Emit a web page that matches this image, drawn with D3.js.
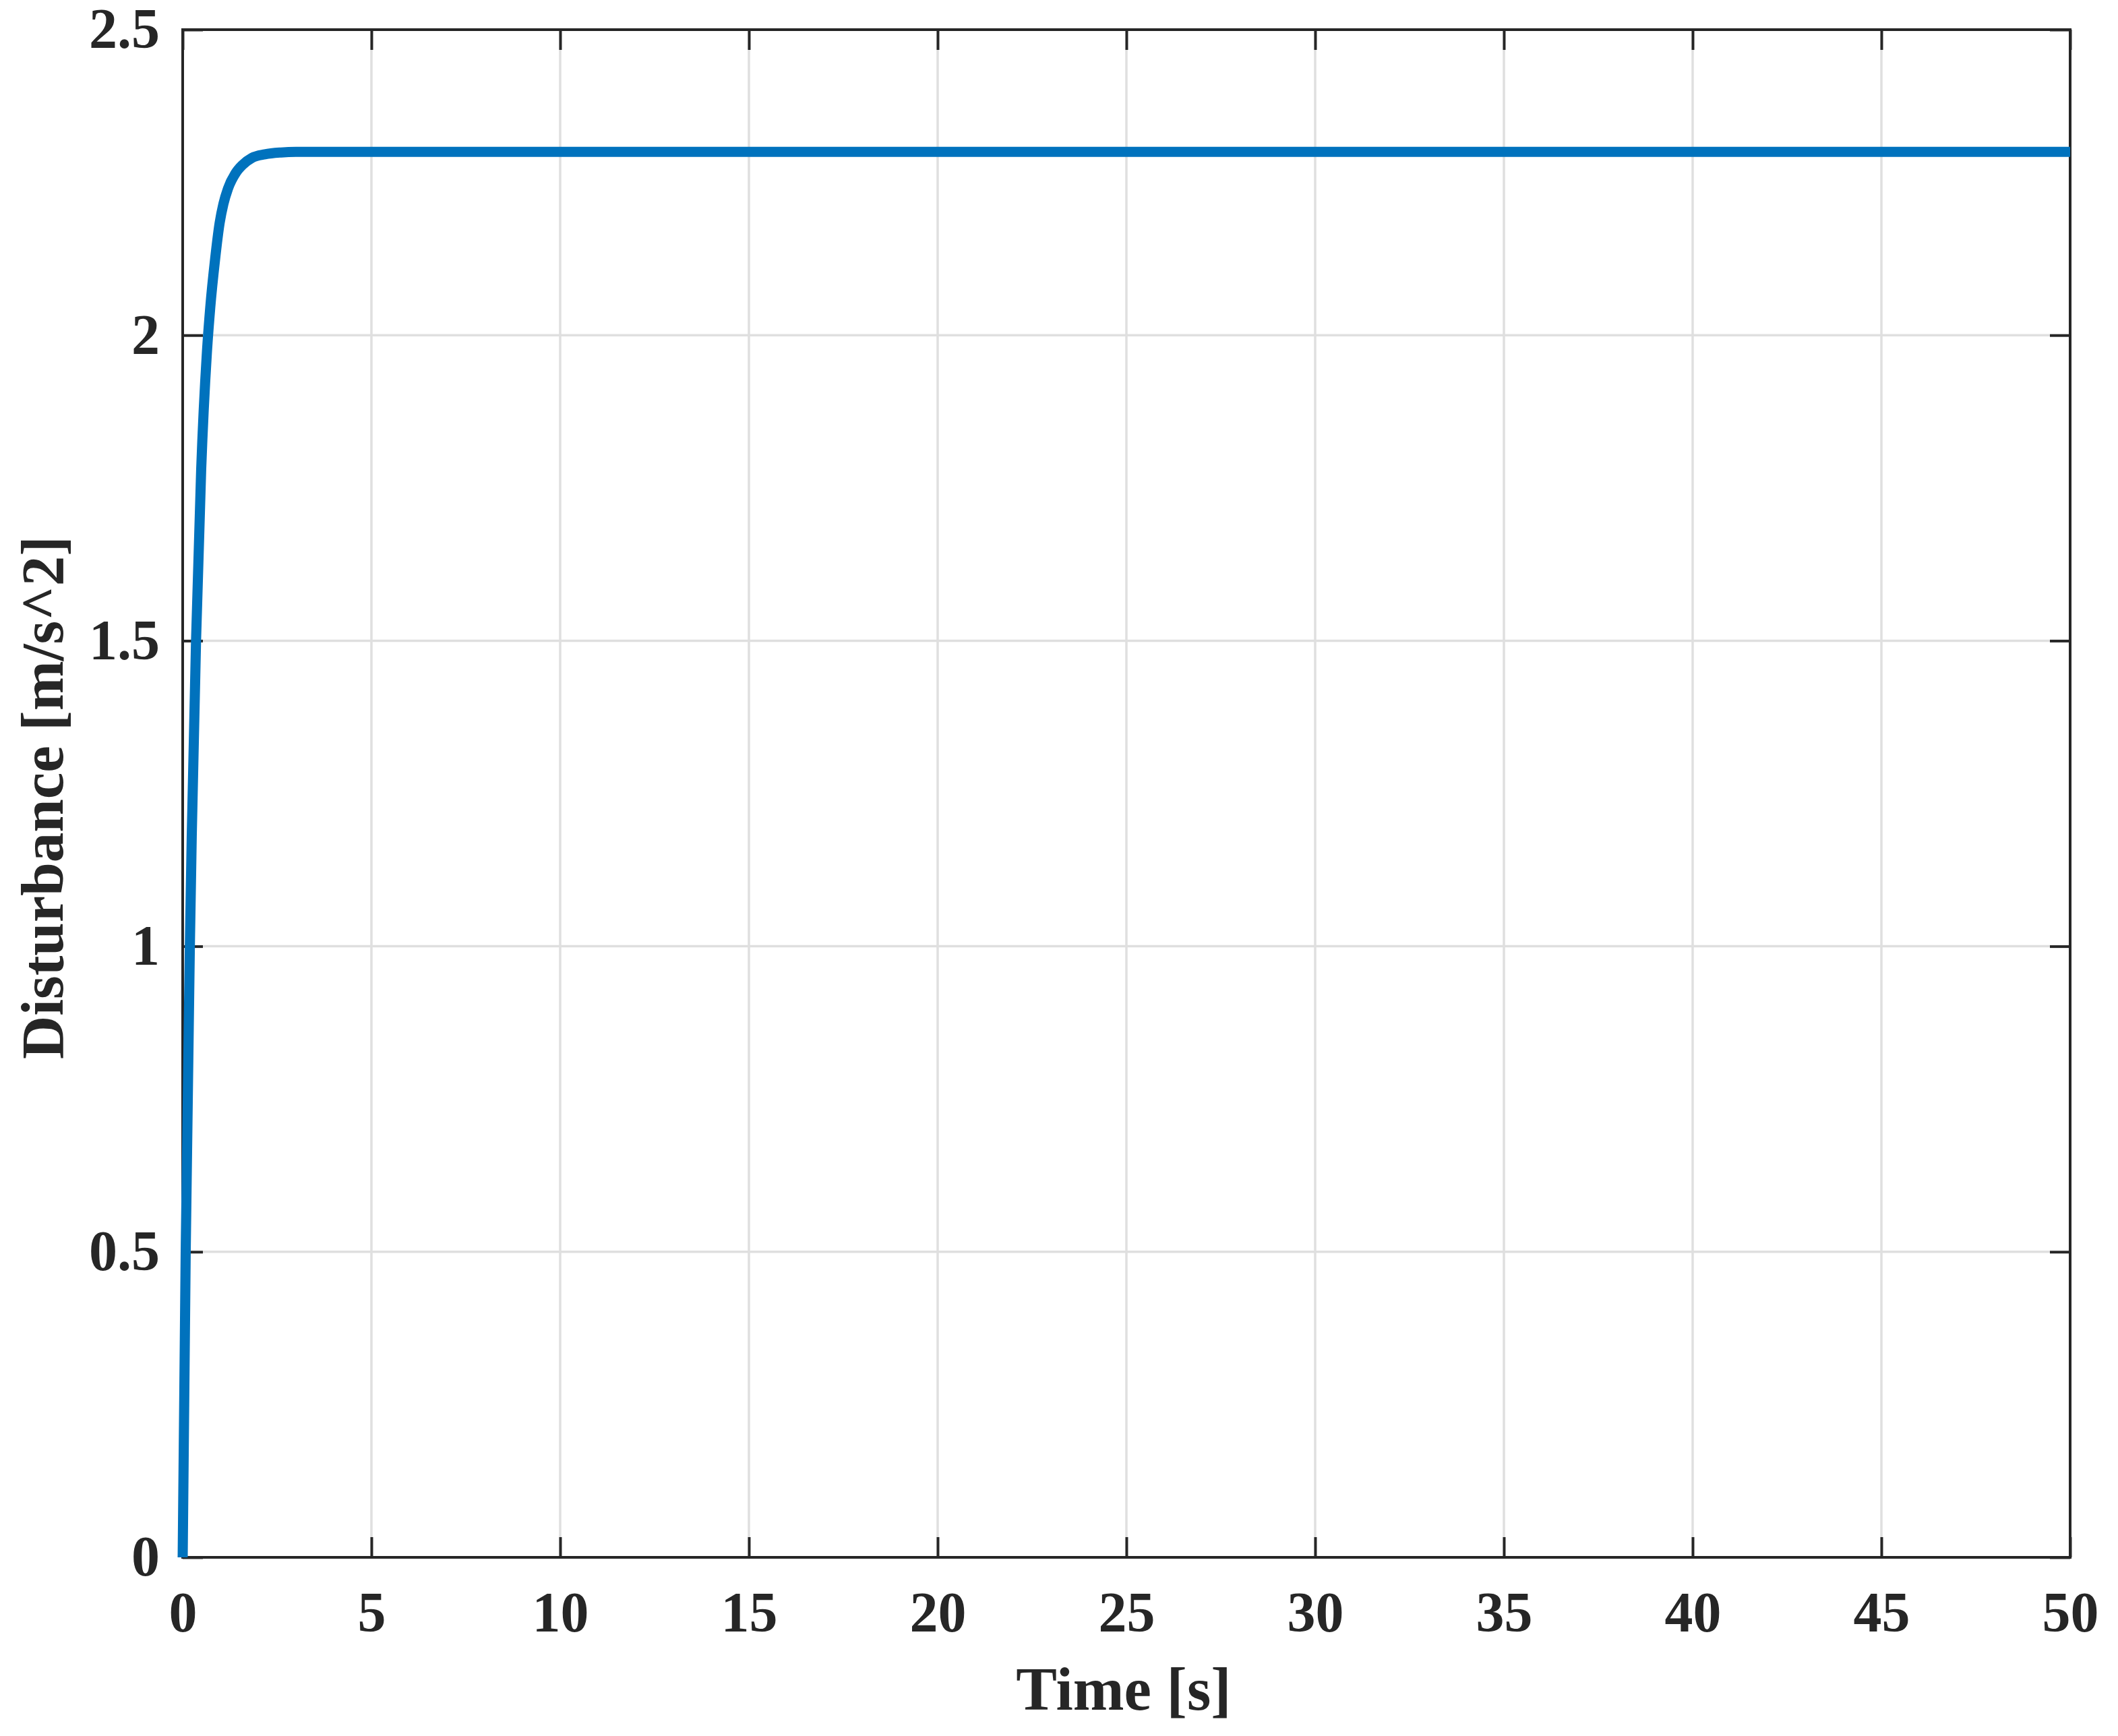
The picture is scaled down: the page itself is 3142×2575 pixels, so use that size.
<!DOCTYPE html>
<html>
<head>
<meta charset="utf-8">
<script src="https://cdn.jsdelivr.net/npm/d3@7"></script>
<style>
  html, body { margin: 0; padding: 0; background: #ffffff; }
  svg { display: block; }
</style>
</head>
<body>
<svg id="chart" width="3142" height="2575"></svg>
<script>
// ---- data ----
const timeS = [0, 0.08, 0.19, 0.24, 0.354, 0.49, 0.64, 0.73, 0.86, 0.98, 1.08, 1.20, 1.41, 1.59, 1.83, 2.18, 2.6, 3.0, 5, 10, 20, 30, 40, 50];
const disturbance = [0, 0.5, 1.0, 1.18, 1.5, 1.78, 1.97, 2.045, 2.125, 2.184, 2.215, 2.240, 2.266, 2.279, 2.290, 2.296, 2.299, 2.3, 2.3, 2.3, 2.3, 2.3, 2.3, 2.3];
const xTicks = [0, 5, 10, 15, 20, 25, 30, 35, 40, 45, 50];
const yTicks = [0, 0.5, 1, 1.5, 2, 2.5];
const yTickLabels = ["0", "0.5", "1", "1.5", "2", "2.5"];
const xLabel = "Time [s]";
const yLabel = "Disturbance [m/s^2]";

// ---- layout ----
const W = 3142, H = 2575;
const plot = { left: 271, right: 3071, top: 44, bottom: 2310 };
const ink = "#262626";
const font = "'Liberation Serif', 'Times New Roman', serif";

const svg = d3.select("#chart");
const x = d3.scaleLinear().domain([0, 50]).range([plot.left, plot.right]);
const y = d3.scaleLinear().domain([0, 2.5]).range([plot.bottom, plot.top]);

// grid
const grid = svg.append("g");
grid.selectAll("line.gx").data(xTicks.slice(1, -1)).join("line")
  .attr("x1", d => x(d)).attr("x2", d => x(d))
  .attr("y1", plot.top).attr("y2", plot.bottom)
  .attr("stroke", "#dfdfdf").attr("stroke-width", 3.5);
grid.selectAll("line.gy").data(yTicks.slice(1, -1)).join("line")
  .attr("x1", plot.left).attr("x2", plot.right)
  .attr("y1", d => y(d)).attr("y2", d => y(d))
  .attr("stroke", "#dfdfdf").attr("stroke-width", 3.5);

function styleAxis(g) {
  g.select(".domain").remove();
  g.selectAll(".tick line").attr("stroke", ink).attr("stroke-width", 4);
  g.selectAll(".tick text")
    .attr("fill", ink)
    .attr("font-family", font)
    .attr("font-weight", "bold")
    .attr("font-size", 84);
}

// bottom axis
svg.append("g").attr("transform", `translate(0,${plot.bottom})`)
  .call(d3.axisBottom(x).tickValues(xTicks).tickFormat(d3.format("d"))
    .tickSizeInner(-30).tickSizeOuter(0).tickPadding(50))
  .call(styleAxis);
// top axis (ticks only)
svg.append("g").attr("transform", `translate(0,${plot.top})`)
  .call(d3.axisTop(x).tickValues(xTicks).tickFormat("")
    .tickSizeInner(-30).tickSizeOuter(0))
  .call(styleAxis);
// left axis
svg.append("g").attr("transform", `translate(${plot.left},0)`)
  .call(d3.axisLeft(y).tickValues(yTicks).tickFormat((d, i) => yTickLabels[i])
    .tickSizeInner(-30).tickSizeOuter(0).tickPadding(34))
  .call(styleAxis);
// right axis (ticks only)
svg.append("g").attr("transform", `translate(${plot.right},0)`)
  .call(d3.axisRight(y).tickValues(yTicks).tickFormat("")
    .tickSizeInner(-30).tickSizeOuter(0))
  .call(styleAxis);

// box
svg.append("rect")
  .attr("x", plot.left).attr("y", plot.top)
  .attr("width", plot.right - plot.left).attr("height", plot.bottom - plot.top)
  .attr("fill", "none").attr("stroke", ink).attr("stroke-width", 4);

// data line
const pts = timeS.map((t, i) => [t, disturbance[i]]);
svg.append("path")
  .datum(pts)
  .attr("d", d3.line().x(d => x(d[0])).y(d => y(d[1])).curve(d3.curveMonotoneX))
  .attr("fill", "none")
  .attr("stroke", "#0072BD")
  .attr("stroke-width", 15)
  .attr("stroke-linejoin", "round")
  .attr("stroke-linecap", "butt");

// axis labels
svg.append("text")
  .attr("x", (plot.left + plot.right) / 2 - 4)
  .attr("y", 2536)
  .attr("text-anchor", "middle")
  .attr("fill", ink)
  .attr("font-family", font)
  .attr("font-weight", "bold")
  .attr("font-size", 91)
  .text(xLabel);

svg.append("text")
  .attr("transform", `translate(93,${(plot.top + plot.bottom) / 2 + 6}) rotate(-90)`)
  .attr("text-anchor", "middle")
  .attr("fill", ink)
  .attr("font-family", font)
  .attr("font-weight", "bold")
  .attr("font-size", 89)
  .text(yLabel);
</script>
</body>
</html>
